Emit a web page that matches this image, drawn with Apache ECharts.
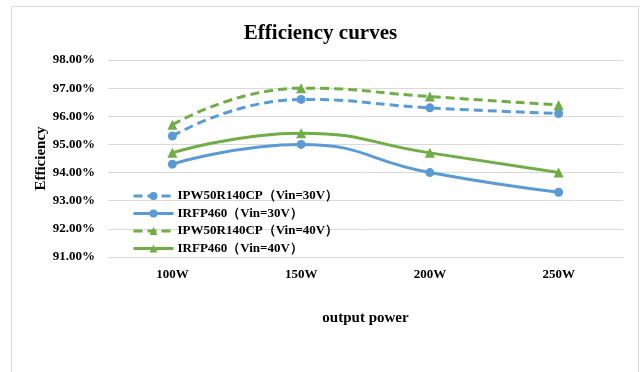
<!DOCTYPE html>
<html>
<head>
<meta charset="utf-8">
<script src="https://cdn.jsdelivr.net/npm/echarts@6/dist/echarts.min.js"></script>
<style>
  html, body { margin: 0; padding: 0; background: #fff; }
  #chart { width: 641px; height: 372px; }
</style>
</head>
<body>
<div id="chart"></div>
<script>
// Output power levels on the x axis
const categories = ['100W', '150W', '200W', '250W'];

// Efficiency (%) per device and input voltage
const ipw30 = [95.3, 96.6, 96.3, 96.1];
const irfp30 = [94.3, 95.0, 94.0, 93.3];
const ipw40 = [95.7, 97.0, 96.7, 96.4];
const irfp40 = [94.7, 95.4, 94.7, 94.0];

const seriesNames = [
  'IPW50R140CP（Vin=30V）',
  'IRFP460（Vin=30V）',
  'IPW50R140CP（Vin=40V）',
  'IRFP460（Vin=40V）'
];

const BLUE = '#5B9BD5';
const GREEN = '#70AD47';
const FONT = '"Liberation Serif", "Times New Roman", serif';

function makeSeries(name, data, color, dashed, symbol) {
  return {
    name: name,
    type: 'line',
    data: data,
    smooth: 0.5,
    symbol: symbol,
    symbolSize: symbol === 'triangle' ? 10 : 9,
    lineStyle: { color: color, width: 3, type: dashed ? [9, 5] : 'solid' },
    itemStyle: { color: color },
    emphasis: { disabled: true }
  };
}

const chart = echarts.init(document.getElementById('chart'), null, { renderer: 'canvas' });

chart.setOption({
  animation: false,
  backgroundColor: '#fff',
  textStyle: { fontFamily: FONT },
  graphic: [{
    type: 'rect',
    shape: { x: 11.5, y: 6.5, width: 627, height: 380 },
    style: { fill: 'none', stroke: '#d9d9d9', lineWidth: 1 },
    silent: true
  }],
  title: {
    text: 'Efficiency curves',
    left: 'center',
    top: 18,
    textStyle: { fontFamily: FONT, fontWeight: 'bold', fontSize: 21, color: '#000' }
  },
  legend: {
    orient: 'vertical',
    left: 132,
    top: 189,
    padding: 0,
    itemWidth: 40,
    itemHeight: 10,
    itemGap: 3.5,
    lineStyle: { width: 3 },
    data: seriesNames,
    textStyle: { fontFamily: FONT, fontWeight: 'bold', fontSize: 13, lineHeight: 14, color: '#000', padding: [0, 0, 0, -1] }
  },
  grid: { left: 108, right: 18, top: 60, bottom: 115 },
  xAxis: {
    type: 'category',
    data: categories,
    boundaryGap: true,
    name: 'output power',
    nameLocation: 'middle',
    nameGap: 54,
    nameTextStyle: { fontFamily: FONT, fontWeight: 'bold', fontSize: 15, color: '#000' },
    axisLine: { lineStyle: { color: '#d9d9d9' } },
    axisTick: { show: false },
    axisLabel: { fontFamily: FONT, fontWeight: 'bold', fontSize: 13, color: '#000', margin: 11 }
  },
  yAxis: {
    type: 'value',
    min: 91,
    max: 98,
    interval: 1,
    name: 'Efficiency',
    nameLocation: 'middle',
    nameRotate: 90,
    nameGap: 59,
    nameMoveOverlap: false,
    nameTextStyle: { fontFamily: FONT, fontWeight: 'bold', fontSize: 15, color: '#000' },
    axisLine: { show: false },
    axisTick: { show: false },
    splitLine: { lineStyle: { color: '#d9d9d9', width: 1 } },
    axisLabel: {
      fontFamily: FONT, fontWeight: 'bold', fontSize: 13, color: '#000', margin: 13,
      formatter: function (v) { return v.toFixed(2) + '%'; }
    }
  },
  series: [
    makeSeries(seriesNames[0], ipw30, BLUE, true, 'circle'),
    makeSeries(seriesNames[1], irfp30, BLUE, false, 'circle'),
    makeSeries(seriesNames[2], ipw40, GREEN, true, 'triangle'),
    makeSeries(seriesNames[3], irfp40, GREEN, false, 'triangle')
  ]
});
</script>
</body>
</html>
